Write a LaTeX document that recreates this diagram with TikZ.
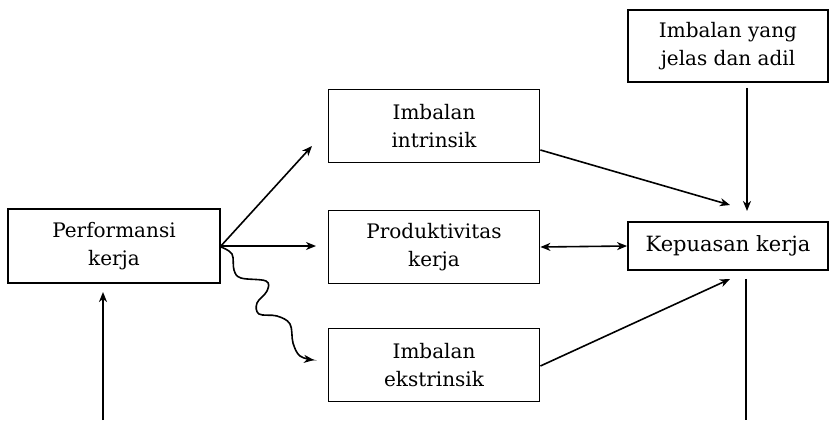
\documentclass[tikz,border=0pt]{standalone}
\usepackage{fontspec}
\setmainfont{DejaVu Serif}
\usetikzlibrary{arrows.meta}
\begin{document}
\begin{tikzpicture}[x=1pt,y=-1pt,
  box/.style={draw,line width=1.8pt,align=center,inner sep=0pt,
    font=\fontsize{20}{28}\selectfont},
  conn/.style={line width=1.6pt},
  arr/.style={conn,-{Stealth[length=10pt,width=8pt,inset=3pt]}},
  dbl/.style={conn,{Stealth[length=10pt,width=8pt,inset=3pt]}-{Stealth[length=10pt,width=8pt,inset=3pt]}}]
\useasboundingbox (0,0) rectangle (829,420);
\node[box,minimum width=212pt,minimum height=74pt] (perf) at (114,246) {Performansi\\kerja};
\node[box,minimum width=211pt,minimum height=73pt] (intr) at (434,126) {Imbalan\\intrinsik};
\node[box,minimum width=211pt,minimum height=73pt] (prod) at (434,247) {Produktivitas\\kerja};
\node[box,minimum width=211pt,minimum height=73pt] (ekst) at (434,365) {Imbalan\\ekstrinsik};
\node[box,minimum width=200pt,minimum height=48pt,font=\fontsize{21}{28}\selectfont] (kep) at (728,246) {Kepuasan kerja};
\node[box,minimum width=200pt,minimum height=72pt] (imb) at (728,46) {Imbalan yang\\jelas dan adil};
\coordinate (tI) at (312,146);
\coordinate (tP) at (316,246);
\coordinate (tE) at (314,360);
\coordinate (bot) at (103,420);
\coordinate (tPerf) at (103,292);
\coordinate (tK1) at (730,205);
\coordinate (tK2) at (730,279);
\coordinate (tK3) at (747,211);
\coordinate (kbot) at (746,420);
\draw[arr] (perf.east) -- (tI);
\draw[arr] (perf.east) -- (tP);
\draw[arr] plot[smooth,tension=0.6] coordinates {(221,247) (232,254) (234,270) (241,278) (266,281) (267,291) (257,303) (259,314) (277,316) (290,324) (293,343) (300,356) (314,360)};
\draw[arr] (bot) -- (tPerf);
\draw[dbl] (prod.east) -- (kep.west);
\draw[arr] (intr.east |- 0,150) -- (tK1);
\draw[arr] (ekst.east |- 0,366) -- (tK2);
\draw[arr] (imb.south -| tK3) ++(0,5) -- (tK3);
\draw[conn] (kep.south -| kbot) ++(0,8) -- (kbot);
\end{tikzpicture}
\end{document}
